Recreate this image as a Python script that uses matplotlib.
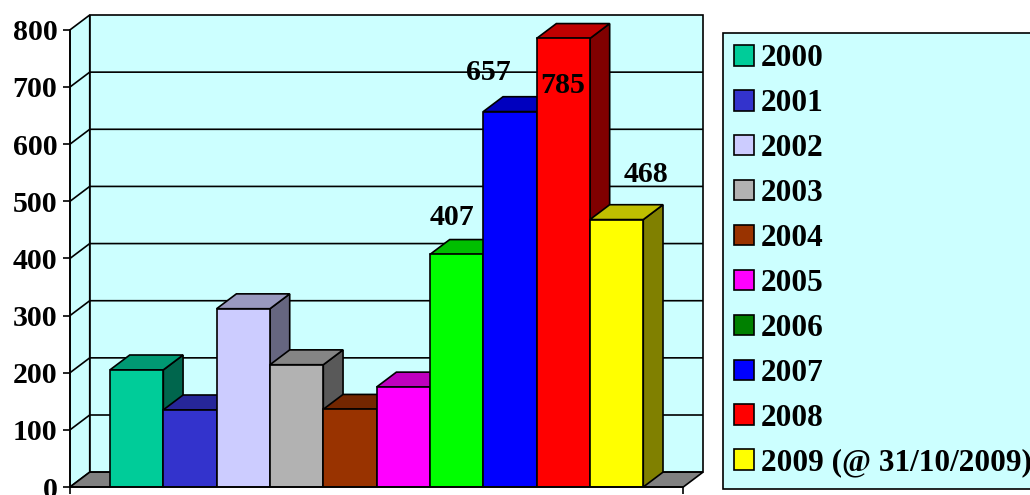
import matplotlib
matplotlib.use('Agg')
import matplotlib.pyplot as plt
from matplotlib.patches import Polygon, Patch
from matplotlib.colors import to_rgb

# ---------------- data ----------------
years = ['2000', '2001', '2002', '2003', '2004', '2005', '2006', '2007', '2008',
         '2009 (@ 31/10/2009)']
values = [205, 135, 312, 214, 136, 175, 407, 657, 785, 468]
bar_colors = ['#00CC99', '#3333CC', '#CCCCFF', '#B2B2B2', '#993300',
              '#FF00FF', '#00FF00', '#0000FF', '#FF0000', '#FFFF00']
legend_colors = ['#00CC99', '#3333CC', '#CCCCFF', '#B2B2B2', '#993300',
                 '#FF00FF', '#008000', '#0000FF', '#FF0000', '#FFFF00']
yticks = [0, 100, 200, 300, 400, 500, 600, 700, 800]
labeled_bars = [6, 7, 8, 9]
# label placement (x offset in category units, y offset in value units)
label_offsets = [(-0.08, 64), (-0.41, 68), (-0.02, -82), (0.56, 78)]

# ---------------- style ----------------
FONT = 'Liberation Serif'
FS = 21.5
FS_LEG = 22.5
LW = 1.2
WALL = '#CCFFFF'
FLOOR = '#808080'

W, H = 1030, 495
fig = plt.figure(figsize=(W / 100, H / 100), dpi=100)
ax = fig.add_axes([70 / W, 8 / H, 633 / W, 472 / H])

DX, DY = 0.37, 26          # depth offsets (category units, value units)
x0, x1 = -1.25, 10.25
ymax = yticks[-1]
ax.set_xlim(x0, x1 + DX)
ax.set_ylim(0, ymax + DY)
ax.patch.set_visible(False)

# walls
side_wall = Polygon([(x0, 0), (x0, ymax), (x0 + DX, ymax + DY), (x0 + DX, DY)],
                    closed=True, facecolor=WALL, edgecolor='black', lw=LW,
                    zorder=0.5, clip_on=False)
back_wall = Polygon([(x0 + DX, DY), (x0 + DX, ymax + DY), (x1 + DX, ymax + DY),
                     (x1 + DX, DY)], closed=True, facecolor=WALL,
                    edgecolor='black', lw=LW, zorder=0.5, clip_on=False)
ax.add_patch(side_wall)
ax.add_patch(back_wall)
for v in yticks[1:-1]:
    ax.plot([x0, x0 + DX, x1 + DX], [v, v + DY, v + DY], color='black',
            lw=LW, zorder=0.7, solid_joinstyle='miter')
floor = Polygon([(x0, 0), (x0 + DX, DY), (x1 + DX, DY), (x1, 0)], closed=True,
                facecolor=FLOOR, edgecolor='black', lw=LW, zorder=0.8,
                clip_on=False)
ax.add_patch(floor)


def shade(c, f):
    r, g, b = to_rgb(c)
    return (r * f, g * f, b * f)


for i, (v, c) in enumerate(zip(values, bar_colors)):
    z = 2 + i * 0.1
    side = Polygon([(i + 0.5, 0), (i + 0.5 + DX, DY), (i + 0.5 + DX, v + DY),
                    (i + 0.5, v)], closed=True, facecolor=shade(c, 0.5),
                   edgecolor='black', lw=LW, zorder=z, joinstyle='miter')
    top = Polygon([(i - 0.5, v), (i + 0.5, v), (i + 0.5 + DX, v + DY),
                   (i - 0.5 + DX, v + DY)], closed=True, facecolor=shade(c, 0.75),
                  edgecolor='black', lw=LW, zorder=z + 0.01, joinstyle='miter')
    ax.add_patch(side)
    ax.add_patch(top)
    ax.bar(i, v, width=1.0, color=c, edgecolor='black', lw=LW, zorder=z + 0.02)

for idx, (ox, oy) in zip(labeled_bars, label_offsets):
    ax.text(idx + ox, values[idx] + oy, str(values[idx]), ha='center',
            va='center', fontsize=FS, fontweight='bold', family=FONT,
            zorder=10)

# axes
for s in ['top', 'right']:
    ax.spines[s].set_visible(False)
ax.spines['left'].set_bounds(0, ymax)
ax.spines['bottom'].set_bounds(x0, x1)
for s in ['left', 'bottom']:
    ax.spines[s].set_linewidth(LW)
    ax.spines[s].set_zorder(5)
ax.set_yticks(yticks)
ax.set_yticklabels([str(t) for t in yticks], fontsize=FS, fontweight='bold',
                   family=FONT)
ax.set_xticks([x0, x1])
ax.set_xticklabels(['', ''])
ax.tick_params(axis='both', direction='out', length=5, width=LW, pad=4)

# legend
handles = [Patch(facecolor=c, edgecolor='black', lw=LW) for c in legend_colors]
leg = fig.legend(handles, years, loc='upper left',
                 bbox_to_anchor=(723 / W, 1 - 33 / H),
                 bbox_transform=fig.transFigure, borderaxespad=0,
                 prop={'family': FONT, 'weight': 'bold', 'size': FS_LEG},
                 handlelength=0.64, handleheight=0.64, handletextpad=0.22,
                 borderpad=0.36, labelspacing=0.51, fancybox=False,
                 frameon=True, facecolor=WALL, edgecolor='black', framealpha=1)
leg.get_frame().set_linewidth(LW)

fig.savefig('out.png', dpi=100)
